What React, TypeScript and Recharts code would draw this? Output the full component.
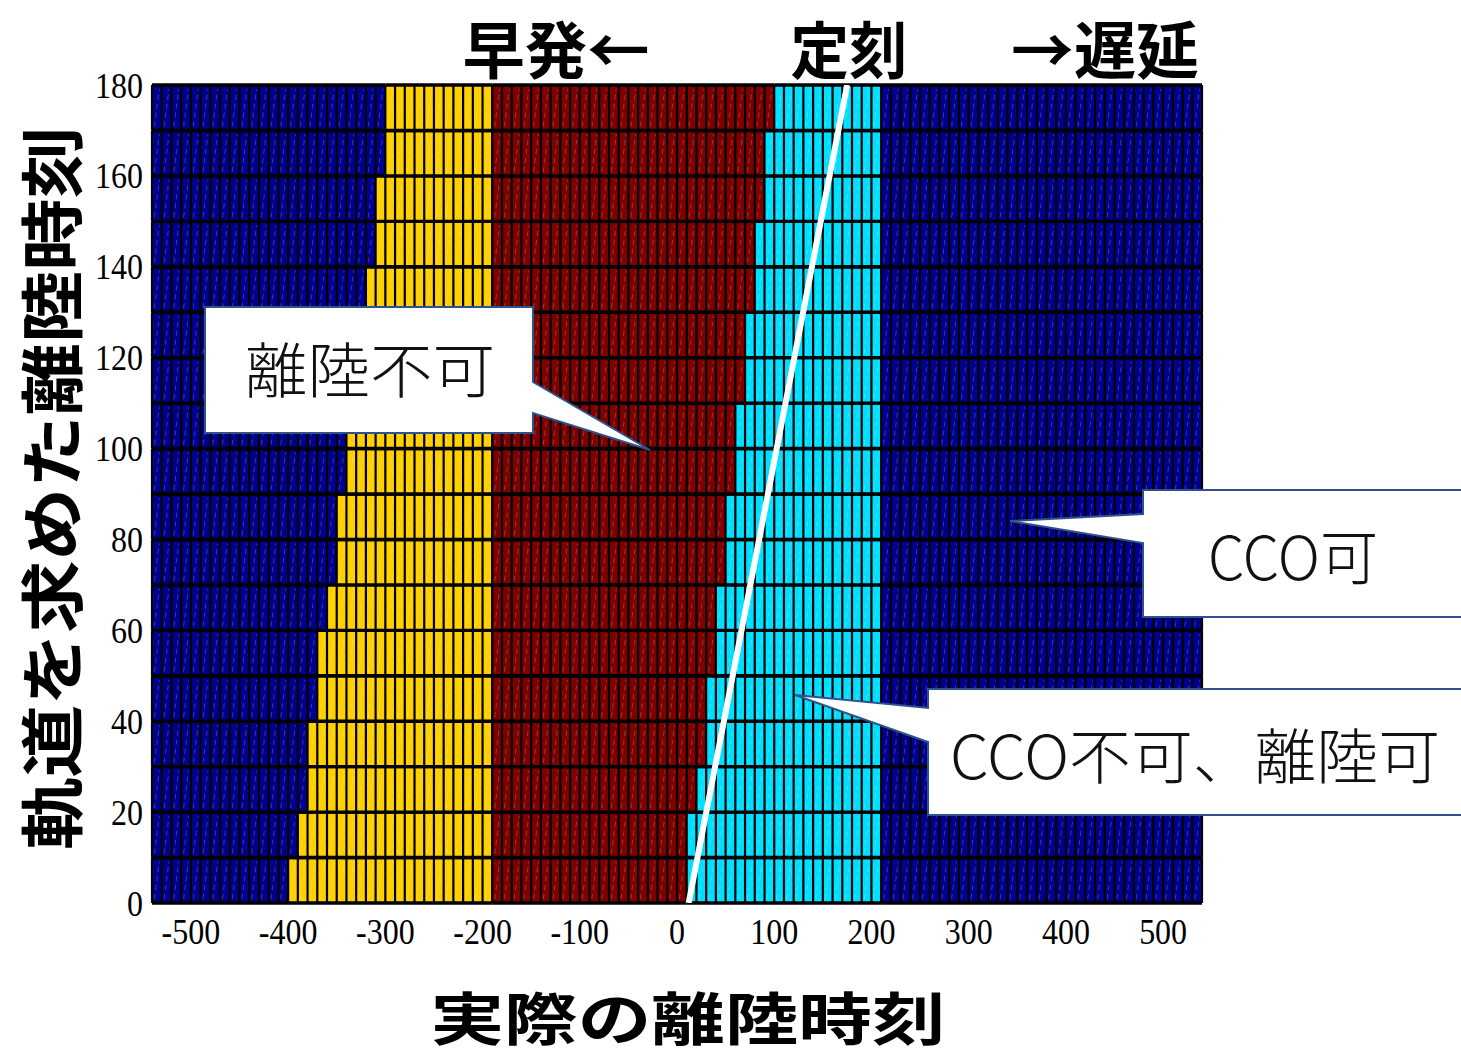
import React from 'react';
import { ComposedChart, XAxis, YAxis, Line, ReferenceArea } from 'recharts';

// Grid extent: each cell is 10 s wide and each row 10 s tall
const X_MIN = -540;
const X_MAX = 540;
const CELL = 10;
const ROW = 10;

// Lower edge of each row (time at which the trajectory was computed)
const rowStarts = [0, 10, 20, 30, 40, 50, 60, 70, 80, 90, 100, 110, 120, 130, 140, 150, 160, 170];
// Region boundaries per row (actual departure time)
const yellowStart = [-400, -390, -380, -380, -370, -370, -360, -350, -350, -340, -340, -330, -320, -320, -310, -310, -300, -300];
const redStart = [-190, -190, -190, -190, -190, -190, -190, -190, -190, -190, -190, -190, -190, -190, -190, -190, -190, -190];
const cyanStart = [10, 10, 20, 30, 30, 40, 40, 50, 50, 60, 60, 70, 70, 80, 80, 90, 90, 100];
const cyanEnd = [210, 210, 210, 210, 210, 210, 210, 210, 210, 210, 210, 210, 210, 210, 210, 210, 210, 210];

// Scheduled departure line
const scheduleLine = [
  { x: 12, y: 0 },
  { x: 175, y: 180 },
];

const xTicks = [-500, -400, -300, -200, -100, 0, 100, 200, 300, 400, 500];
const yTicks = [0, 20, 40, 60, 80, 100, 120, 140, 160, 180];

const NAVY = '#00008F';
const YELLOW = '#FFD000';
const RED = '#800000';
const CYAN = '#00DFFF';
const segmentColors = [NAVY, YELLOW, RED, CYAN, NAVY];

const W = 1461;
const H = 1055;
const JP = "'Noto Sans CJK JP', 'Noto Sans', sans-serif";
const SERIF = "'Liberation Serif', 'DejaVu Serif', serif";

type Segment = { key: string; x1: number; x2: number; y1: number; y2: number; color: string };

const segments: Segment[] = [];
rowStarts.forEach((y, i) => {
  const bounds = [X_MIN, yellowStart[i], redStart[i], cyanStart[i], cyanEnd[i], X_MAX];
  for (let s = 0; s < 5; s++) {
    if (bounds[s + 1] > bounds[s]) {
      segments.push({
        key: `r${i}s${s}`,
        x1: bounds[s],
        x2: bounds[s + 1],
        y1: y,
        y2: y + ROW,
        color: segmentColors[s],
      });
    }
  }
});

// A horizontal run of same-coloured cells with black cell borders
function Strip(props: any) {
  const { x, y, width, height, n, color } = props;
  if (width == null || !isFinite(width)) return null;
  const w = width / n;
  const diag: React.ReactNode[] = [];
  const verts: React.ReactNode[] = [];
  for (let i = 0; i < n; i++) {
    const cx = x + i * w;
    diag.push(
      <line
        key={`d${i}`}
        x1={cx + w * 0.25}
        y1={y + height - 4}
        x2={cx + w * 0.75}
        y2={y + 4}
        stroke="rgba(255,255,255,0.22)"
        strokeWidth={1}
        strokeDasharray="5 4"
      />
    );
  }
  for (let i = 0; i <= n; i++) {
    verts.push(
      <line key={`v${i}`} x1={x + i * w} x2={x + i * w} y1={y} y2={y + height} stroke="#000" strokeWidth={2.2} />
    );
  }
  return (
    <g>
      <rect x={x} y={y} width={width} height={height} fill={color} />
      {diag}
      {verts}
      <line x1={x} x2={x + width} y1={y} y2={y} stroke="#000" strokeWidth={3.4} />
      <line x1={x} x2={x + width} y1={y + height} y2={y + height} stroke="#000" strokeWidth={3.4} />
    </g>
  );
}

function XTick(props: any) {
  const { x, y, payload } = props;
  return (
    <g transform={`translate(${x},${y})`}>
      <text transform="scale(1,1.15)" x={0} y={0} dy="0.71em" textAnchor="middle" fontFamily={SERIF} fontSize={32} fill="#000">
        {payload.value}
      </text>
    </g>
  );
}

function YTick(props: any) {
  const { x, y, payload } = props;
  return (
    <g transform={`translate(${x},${y})`}>
      <text transform="scale(1,1.15)" x={0} y={0} dy="0.34em" textAnchor="end" fontFamily={SERIF} fontSize={32} fill="#000">
        {payload.value}
      </text>
    </g>
  );
}

const CALLOUT_STROKE = '#2F528F';

function Overlay() {
  return (
    <svg width={W} height={H} style={{ position: 'absolute', left: 0, top: 0, pointerEvents: 'none' }}>
      {/* headings above the plot */}
      <text x={556} y={47} textAnchor="middle" dominantBaseline="central" fontFamily={JP} fontWeight={700} fontSize={62} textLength={187} lengthAdjust="spacingAndGlyphs">早発←</text>
      <text x={849} y={47} textAnchor="middle" dominantBaseline="central" fontFamily={JP} fontWeight={700} fontSize={62} textLength={117} lengthAdjust="spacingAndGlyphs">定刻</text>
      <text x={1105} y={47} textAnchor="middle" dominantBaseline="central" fontFamily={JP} fontWeight={700} fontSize={62} textLength={188} lengthAdjust="spacingAndGlyphs">→遅延</text>

      {/* axis titles */}
      <text
        transform="translate(48,488) rotate(-90)"
        x={0}
        y={0}
        textAnchor="middle"
        dominantBaseline="central"
        fontFamily={JP}
        fontWeight={700}
        fontSize={64}
        textLength={724}
        lengthAdjust="spacingAndGlyphs"
      >
        軌道を求めた離陸時刻
      </text>
      <text x={688} y={1015} textAnchor="middle" dominantBaseline="central" fontFamily={JP} fontWeight={700} fontSize={57} textLength={515} lengthAdjust="spacingAndGlyphs">
        実際の離陸時刻
      </text>

      {/* callouts */}
      <path d="M205,307 H533 V382 L650,450 L533,413 V433 H205 Z" fill="#fff" stroke={CALLOUT_STROKE} strokeWidth={2} />
      <text x={370} y={366} textAnchor="middle" dominantBaseline="central" fontFamily={JP} fontWeight={300} fontSize={60} fill="#111" textLength={250} lengthAdjust="spacingAndGlyphs">離陸不可</text>

      <path d="M1143,490 H1475 V617 H1143 V543 L1010,521 L1143,514 Z" fill="#fff" stroke={CALLOUT_STROKE} strokeWidth={2} />
      <text x={1293} y={553} textAnchor="middle" dominantBaseline="central" fontFamily={JP} fontWeight={300} fontSize={60} fill="#111" textLength={170} lengthAdjust="spacingAndGlyphs">CCO可</text>

      <path d="M928,689 H1475 V815 H928 V742 L795,695 L928,708 Z" fill="#fff" stroke={CALLOUT_STROKE} strokeWidth={2} />
      <text x={1195} y={752} textAnchor="middle" dominantBaseline="central" fontFamily={JP} fontWeight={300} fontSize={60} fill="#111" textLength={490} lengthAdjust="spacingAndGlyphs">CCO不可、離陸可</text>
    </svg>
  );
}

export default function App() {
  return (
    <div style={{ position: 'absolute', left: 0, top: 0, width: W, height: H, background: '#fff', overflow: 'hidden' }}>
      <ComposedChart width={W} height={H} data={scheduleLine} margin={{ top: 85, right: 259, bottom: 0, left: 0 }}>
        <XAxis
          type="number"
          dataKey="x"
          domain={[X_MIN, X_MAX]}
          ticks={xTicks}
          interval={0}
          allowDataOverflow
          axisLine={false}
          tickLine={false}
          tickSize={0}
          tickMargin={15}
          height={152}
          tick={<XTick />}
        />
        <YAxis
          type="number"
          domain={[0, 180]}
          ticks={yTicks}
          interval={0}
          allowDataOverflow
          axisLine={false}
          tickLine={false}
          tickSize={0}
          tickMargin={9}
          width={152}
          tick={<YTick />}
        />
        {segments.map((s) => (
          <ReferenceArea
            key={s.key}
            x1={s.x1}
            x2={s.x2}
            y1={s.y1}
            y2={s.y2}
            ifOverflow="visible"
            shape={(p: any) => <Strip {...p} n={Math.round((s.x2 - s.x1) / CELL)} color={s.color} />}
          />
        ))}
        <Line
          type="linear"
          dataKey="y"
          stroke="#fff"
          strokeWidth={6}
          dot={false}
          activeDot={false}
          isAnimationActive={false}
        />
      </ComposedChart>
      <Overlay />
    </div>
  );
}
